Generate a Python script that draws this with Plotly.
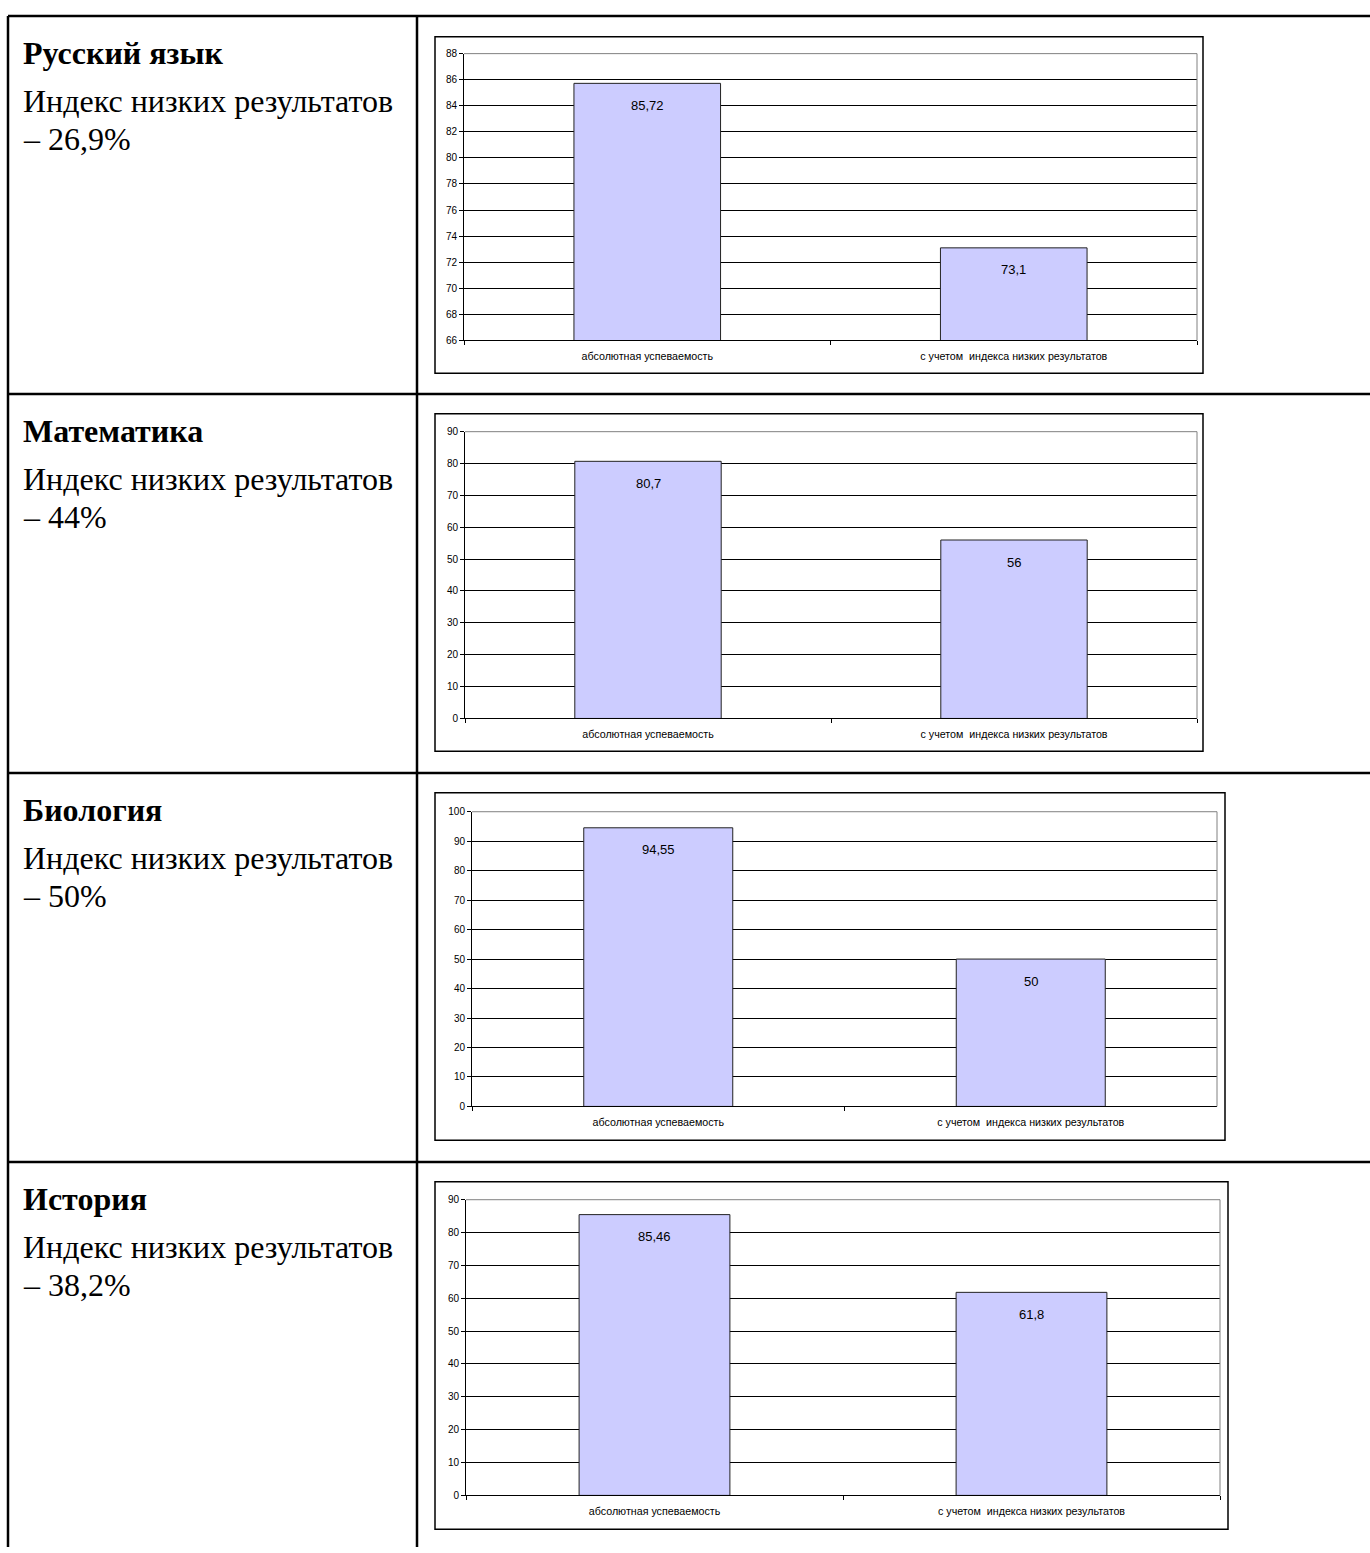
import plotly.graph_objects as go

W, H = 1370, 1553

# --- data ---
subjects = ["Русский язык", "Математика", "Биология", "История"]
low_index = ["26,9%", "44%", "50%", "38,2%"]
categories = ["абсолютная успеваемость", "с учетом\u00a0 индекса низких результатов"]
rus_vals = [85.72, 73.1]
math_vals = [80.7, 56]
bio_vals = [94.55, 50]
hist_vals = [85.46, 61.8]
series = [rus_vals, math_vals, bio_vals, hist_vals]
y_ranges = [[66, 88], [0, 90], [0, 100], [0, 90]]
y_dticks = [2, 10, 10, 10]

# --- layout in pixels (table rows, chart frames, plot areas) ---
row_tops = [10, 391, 773, 1165]
frames = [(435, 31, 1203, 370), (435, 411, 1203, 751),
          (435, 793, 1225, 1143), (435, 1185, 1228, 1535)]
plots = [(464, 48, 1197, 337), (465, 429, 1197, 718),
         (472, 812, 1217, 1109), (466, 1203, 1220, 1501)]

SANS = "Liberation Sans"
SERIF = "Liberation Serif"


def px(x):
    return x / W


def py(y):
    return 1 - y / H


def fmt(v):
    return f"{v:g}".replace(".", ",")


fig = go.Figure()
shapes = []
annotations = []

for i, vals in enumerate(series):
    n = "" if i == 0 else str(i + 1)
    xa, ya = "x" + n, "y" + n
    x0, y0, x1, y1 = plots[i]

    fig.add_trace(go.Bar(
        x=categories, y=vals, xaxis=xa, yaxis=ya,
        marker=dict(color="#CCCCFF", line=dict(color="#222222", width=1)),
        showlegend=False, hoverinfo="x+y",
    ))

    fig.layout["xaxis" + n] = dict(
        domain=[px(x0), px(x1)], anchor=ya, type="category",
        showline=True, linecolor="black", linewidth=1,
        ticks="outside", tickson="boundaries", ticklen=4, tickcolor="black",
        ticklabelstandoff=6,
        tickfont=dict(family=SANS, size=10.7, color="black"),
        showgrid=False, fixedrange=True,
    )
    fig.layout["yaxis" + n] = dict(
        domain=[py(y1), py(y0)], anchor=xa, range=y_ranges[i],
        dtick=y_dticks[i], tick0=y_ranges[i][0],
        showline=True, linecolor="black", linewidth=1,
        ticks="outside", ticklen=4, tickcolor="black",
        tickfont=dict(family=SANS, size=10, color="black"),
        showgrid=True, gridcolor="black", gridwidth=1,
        zeroline=False, fixedrange=True,
    )

    # data labels just inside the top of each bar
    for c, v in zip(categories, vals):
        annotations.append(dict(
            x=c, y=v, xref=xa, yref=ya, text=fmt(v), showarrow=False,
            yshift=-22, font=dict(family=SANS, size=13, color="black"),
        ))

    # grey plot-area border on top and right
    shapes.append(dict(type="line", xref=xa + " domain", yref=ya + " domain",
                       x0=0, x1=1, y0=1, y1=1, layer="above",
                       line=dict(color="#808080", width=1)))
    shapes.append(dict(type="line", xref=xa + " domain", yref=ya + " domain",
                       x0=1, x1=1, y0=0, y1=1, layer="above",
                       line=dict(color="#808080", width=1)))

    # chart frame
    fx0, fy0, fx1, fy1 = frames[i]
    shapes.append(dict(type="rect", xref="paper", yref="paper",
                       x0=px(fx0), x1=px(fx1), y0=py(fy1), y1=py(fy0),
                       line=dict(color="black", width=1.5), layer="below"))

    # left column text
    top = row_tops[i]
    lines = [("<b>" + subjects[i] + "</b>", 37),
             ("Индекс низких результатов", 86),
             ("– " + low_index[i], 124)]
    for txt, dy in lines:
        annotations.append(dict(
            x=px(21), y=py(top + dy), xref="paper", yref="paper",
            xanchor="left", yanchor="middle", showarrow=False, align="left",
            text=txt, font=dict(family=SERIF, size=32, color="black"),
        ))

# table grid lines
TL = dict(color="black", width=2.5)
shapes.append(dict(type="line", xref="paper", yref="paper",
                   x0=px(8), x1=px(8), y0=py(10), y1=0, line=TL))
shapes.append(dict(type="line", xref="paper", yref="paper",
                   x0=px(417), x1=px(417), y0=py(10), y1=0, line=TL))
for y in row_tops:
    shapes.append(dict(type="line", xref="paper", yref="paper",
                       x0=px(8), x1=1, y0=py(y), y1=py(y), line=TL))

fig.update_layout(
    width=W, height=H,
    margin=dict(l=0, r=0, t=0, b=0),
    paper_bgcolor="white", plot_bgcolor="white",
    bargap=0.6,
    shapes=shapes, annotations=annotations,
    font=dict(family=SANS, color="black"),
)

fig.write_html("out.html", config={"displayModeBar": False},
               post_script="document.body.style.margin='0';")
